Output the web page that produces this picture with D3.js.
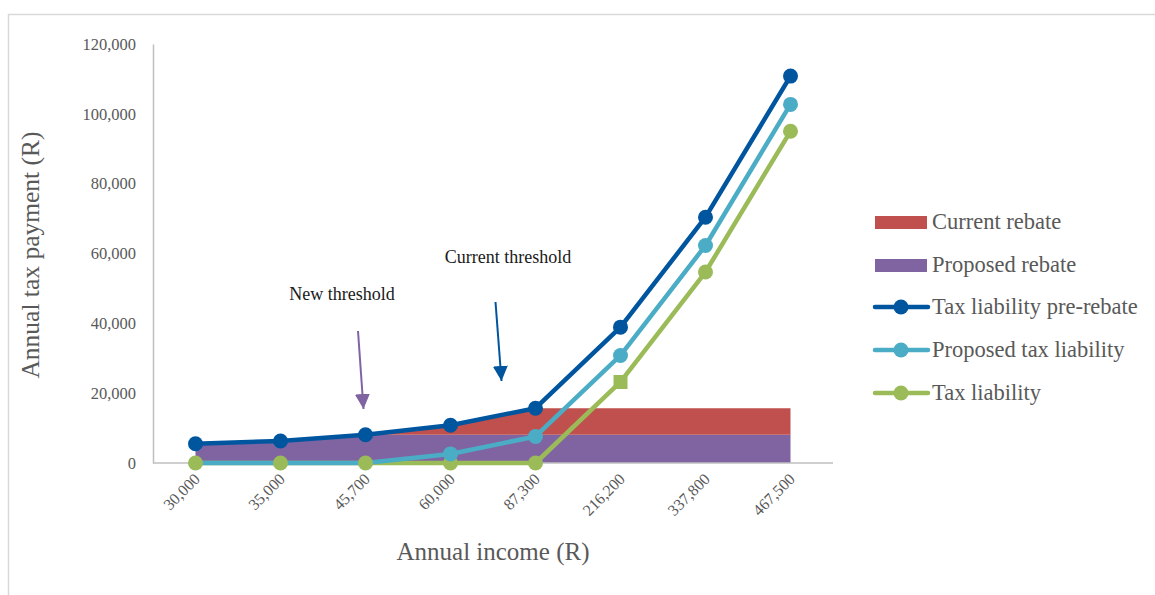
<!DOCTYPE html>
<html>
<head>
<meta charset="utf-8">
<script src="https://cdn.jsdelivr.net/npm/d3@7/dist/d3.min.js"></script>
<style>
  html, body { margin: 0; padding: 0; background: #fff; }
  svg { display: block; font-family: "Liberation Serif", "Times New Roman", serif; }
</style>
</head>
<body>
<svg id="chart" width="1155" height="595"></svg>
<script>
// Income brackets (R per year)
const incomes = ["30,000", "35,000", "45,700", "60,000", "87,300", "216,200", "337,800", "467,500"];

// Rebates, stacked: proposed rebate at the bottom, extra current rebate above it
const proposedRebate = [5500, 6300, 8100, 8100, 8100, 8100, 8100, 8100];
const extraCurrentRebate = [0, 0, 0, 2700, 7600, 7600, 7600, 7600];

// Tax lines
const taxPreRebate = [5500, 6300, 8100, 10800, 15700, 38900, 70400, 110800];
const proposedTaxLiability = [0, 0, 0, 2600, 7600, 30800, 62300, 102700];
const taxLiability = [0, 0, 0, 0, 0, 23200, 54700, 95000];

const yTicks = [0, 20000, 40000, 60000, 80000, 100000, 120000];

const colors = {
  current: "#c0504d",
  proposed: "#8064a2",
  pre: "#00559f",
  propTax: "#4bacc6",
  tax: "#9bbb59"
};

const svg = d3.select("#chart");

// outer frame
svg.append("rect")
  .attr("x", 8.5).attr("y", 14.5)
  .attr("width", 1160).attr("height", 600)
  .attr("fill", "none").attr("stroke", "#d9d9d9").attr("stroke-width", 1.5);

const plot = { left: 153, right: 833, top: 44, bottom: 463 };

const x = d3.scalePoint().domain(incomes).range([plot.left, plot.right]).padding(0.5);
const y = d3.scaleLinear().domain([0, 120000]).range([plot.bottom, plot.top]);

// Stacked rebate areas
const stackRows = incomes.map((c, i) => ({ c, proposed: proposedRebate[i], current: extraCurrentRebate[i] }));
const stacked = d3.stack().keys(["proposed", "current"])(stackRows);
const area = d3.area()
  .x(d => x(d.data.c))
  .y0(d => y(d[0]))
  .y1(d => y(d[1]));
svg.append("g").selectAll("path")
  .data(stacked)
  .join("path")
  .attr("d", area)
  .attr("fill", d => d.key === "proposed" ? colors.proposed : colors.current);

// Axes
const yAxis = d3.axisLeft(y).tickValues(yTicks).tickSize(0).tickPadding(17)
  .tickFormat(d3.format(","));
const gy = svg.append("g").attr("transform", `translate(${plot.left},0)`).call(yAxis);
gy.select(".domain").attr("stroke", "#bfbfbf").attr("stroke-width", 1.5);
gy.selectAll("text").attr("fill", "#595959").attr("font-size", 16.5)
  .attr("font-family", "Liberation Serif, serif");

const xAxis = d3.axisBottom(x).tickSize(0).tickPadding(0);
const gx = svg.append("g").attr("transform", `translate(0,${plot.bottom})`).call(xAxis);
gx.select(".domain").attr("stroke", "#bfbfbf").attr("stroke-width", 1.5)
  .attr("d", `M${plot.left},0H${plot.right}`);
gx.selectAll("text")
  .attr("fill", "#595959").attr("font-size", 16)
  .attr("font-family", "Liberation Serif, serif")
  .attr("text-anchor", "end")
  .attr("dy", null).attr("y", 0)
  .attr("transform", "translate(5,17) rotate(-45)");

// Lines with markers
const series = [
  { name: "Tax liability pre-rebate", values: taxPreRebate, color: colors.pre },
  { name: "Proposed tax liability", values: proposedTaxLiability, color: colors.propTax },
  { name: "Tax liability", values: taxLiability, color: colors.tax }
];
const line = d3.line().x((d, i) => x(incomes[i])).y(d => y(d));

series.slice().reverse().forEach(s => {
  svg.append("path")
    .attr("d", line(s.values))
    .attr("fill", "none").attr("stroke", s.color).attr("stroke-width", 4.5)
    .attr("stroke-linejoin", "round");
});
series.slice().reverse().forEach(s => {
  const g = svg.append("g");
  s.values.forEach((v, i) => {
    if (s.name === "Proposed tax liability" && i < 3) return;
    if (s.name === "Tax liability" && i === 5) {
      g.append("rect")
        .attr("x", x(incomes[i]) - 7).attr("y", y(v) - 7)
        .attr("width", 14).attr("height", 14).attr("fill", s.color);
    } else {
      g.append("circle").attr("cx", x(incomes[i])).attr("cy", y(v)).attr("r", 7.5).attr("fill", s.color);
    }
  });
});

// Axis titles
svg.append("text")
  .attr("transform", `translate(39,255) rotate(-90)`)
  .attr("text-anchor", "middle").attr("fill", "#595959").attr("font-size", 25.5)
  .text("Annual tax payment (R)");
svg.append("text")
  .attr("x", 493).attr("y", 560)
  .attr("text-anchor", "middle").attr("fill", "#595959").attr("font-size", 25)
  .text("Annual income (R)");

// Threshold annotations
const defs = svg.append("defs");
function marker(id, color) {
  defs.append("marker").attr("id", id)
    .attr("viewBox", "0 0 10 10").attr("refX", 10).attr("refY", 5)
    .attr("markerWidth", 7.5).attr("markerHeight", 7.5).attr("markerUnits", "strokeWidth")
    .attr("orient", "auto")
    .append("path").attr("d", "M0,0L10,5L0,10Z").attr("fill", color);
}
marker("arrPurple", colors.proposed);
marker("arrBlue", colors.pre);

svg.append("text").attr("x", 342).attr("y", 300).attr("text-anchor", "middle")
  .attr("fill", "#1a1a1a").attr("font-size", 18).text("New threshold");
svg.append("line").attr("x1", 358).attr("y1", 331).attr("x2", 363.5).attr("y2", 409)
  .attr("stroke", colors.proposed).attr("stroke-width", 2).attr("marker-end", "url(#arrPurple)");

svg.append("text").attr("x", 508).attr("y", 263).attr("text-anchor", "middle")
  .attr("fill", "#1a1a1a").attr("font-size", 18).text("Current threshold");
svg.append("line").attr("x1", 495.5).attr("y1", 302).attr("x2", 501.5).attr("y2", 381)
  .attr("stroke", colors.pre).attr("stroke-width", 2).attr("marker-end", "url(#arrBlue)");

// Legend
const legendItems = [
  { name: "Current rebate", type: "area", color: colors.current },
  { name: "Proposed rebate", type: "area", color: colors.proposed },
  { name: "Tax liability pre-rebate", type: "line", color: colors.pre },
  { name: "Proposed tax liability", type: "line", color: colors.propTax },
  { name: "Tax liability", type: "line", color: colors.tax }
];
const legendY = [222, 265, 307, 350, 393];
const lg = svg.append("g");
legendItems.forEach((d, i) => {
  const yy = legendY[i];
  if (d.type === "area") {
    lg.append("rect").attr("x", 875).attr("y", yy - 6).attr("width", 52).attr("height", 13).attr("fill", d.color);
  } else {
    lg.append("line").attr("x1", 875).attr("x2", 928).attr("y1", yy).attr("y2", yy)
      .attr("stroke", d.color).attr("stroke-width", 4.5).attr("stroke-linecap", "round");
    lg.append("circle").attr("cx", 901).attr("cy", yy).attr("r", 7.5).attr("fill", d.color);
  }
  lg.append("text").attr("x", 932).attr("y", yy + 7).attr("fill", "#595959").attr("font-size", 22.5).text(d.name);
});
</script>
</body>
</html>
